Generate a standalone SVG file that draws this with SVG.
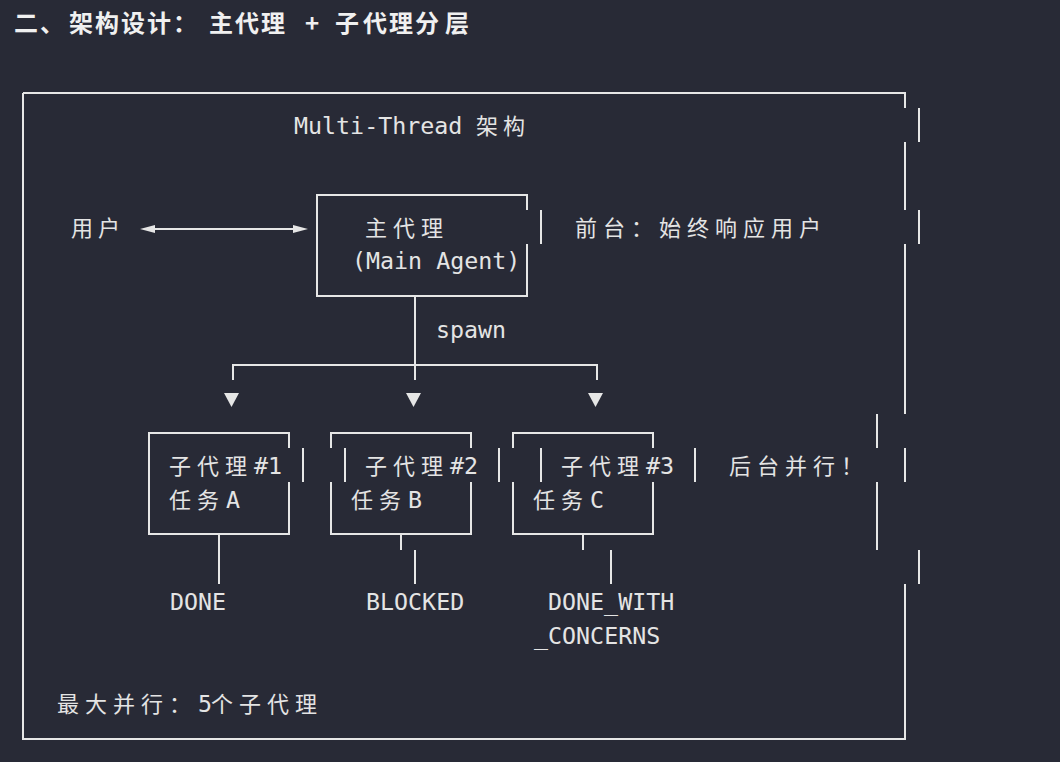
<svg xmlns="http://www.w3.org/2000/svg" width="1060" height="762" viewBox="0 0 1060 762">
<style>
.bg{fill:#282a36}
.ln{fill:none;stroke:#e6e6e6;stroke-width:2}
.hd{fill:#e6e6e6}
.t{font-family:"DejaVu Sans Mono","Noto Sans CJK SC",monospace;font-size:23.3px;fill:#e4e4e4}
.c{font-family:"Noto Sans CJK SC",sans-serif;font-size:22px}
.title{font-family:"Noto Sans CJK SC",sans-serif;font-size:24px;font-weight:700;fill:#f0f0f0}
</style>
<rect class="bg" x="0" y="0" width="1060" height="762"/>
<text class="title" x="14 40 69 95 121 147 173 209 235 261 285 305 322 335 363 389 415 445" y="32">二、架构设计：主代理 + 子代理分层</text>

<g id="frame">
<path class="ln" d="M23 93 H905 V108 M919 108 V142 M905 142 V210 M919 210 V244 M905 244 V414 M877 414 V448 M905 448 V482 M877 482 V550 M919 550 V584 M905 584 V739 H23 V93"/>
<text class="t" x="294" y="134">Multi-Thread <tspan class="c" x="476 503">架构</tspan></text>
</g>

<g id="user">
<text class="t c" x="71 98" y="236">用户</text>
</g>

<g id="main-agent">
<path class="ln" d="M527 210 V195 H317 V296 H527 V244 M541 210 V244"/>
<text class="t c" x="365 393 421" y="236">主代理</text>
<text class="t" x="352" y="269">(Main Agent)</text>
</g>

<g id="front-note">
<text class="t c" x="575 603 631 659 687 715 743 771 799" y="236">前台：始终响应用户</text>
</g>

<g id="sub1">
<path class="ln" d="M289 448 V433 H149 V534 H289 V482 M303 448 V482"/>
<text class="t" y="474"><tspan class="c" x="169 197 225">子代理</tspan><tspan x="254 268">#1</tspan></text>
<text class="t" y="508"><tspan class="c" x="169 197">任务</tspan><tspan x="226">A</tspan></text>
</g>

<g id="sub2">
<path class="ln" d="M331 448 V433 H471 V448 M471 482 V534 H331 V482 M345 448 V482 M499 448 V482"/>
<text class="t" y="474"><tspan class="c" x="365 393 421">子代理</tspan><tspan x="450 464">#2</tspan></text>
<text class="t" y="508"><tspan class="c" x="351 379">任务</tspan><tspan x="408">B</tspan></text>
</g>

<g id="sub3">
<path class="ln" d="M513 448 V433 H653 V448 M653 482 V534 H513 V482 M541 448 V482 M695 448 V482"/>
<text class="t" y="474"><tspan class="c" x="561 589 617">子代理</tspan><tspan x="646 660">#3</tspan></text>
<text class="t" y="508"><tspan class="c" x="533 561">任务</tspan><tspan x="590">C</tspan></text>
</g>

<g id="bg-note">
<text class="t c" x="729 757 785 813 841" y="474">后台并行！</text>
</g>

<g id="status-done">
<text class="t" x="170" y="610">DONE</text>
</g>
<g id="status-blocked">
<text class="t" x="366" y="610">BLOCKED</text>
</g>
<g id="status-concerns">
<text class="t" x="548" y="610">DONE_WITH</text>
<text class="t" x="534" y="644">_CONCERNS</text>
</g>

<g id="limit">
<text class="t" y="712"><tspan class="c" x="57 85 113 141 169">最大并行：</tspan><tspan x="198">5</tspan><tspan class="c" x="211 239 267 295">个子代理</tspan></text>
</g>

<g id="connectors">
<path class="ln" d="M155 229 H293"/>
<polygon class="hd" points="140,229 155,225 155,233"/>
<polygon class="hd" points="308,229 293,225 293,233"/>
<path class="ln" d="M415 296 V380 M233 380 V365 H597 V380"/>
<text class="t" x="436" y="338">spawn</text>
<polygon class="hd" points="224,393 239,393 231.5,407"/>
<polygon class="hd" points="406,393 421,393 413.5,407"/>
<polygon class="hd" points="588,393 603,393 595.5,407"/>
<path class="ln" d="M219 534 V584 M401 534 V550 M415 550 V584 M583 534 V550 M611 550 V584"/>
</g>
</svg>
